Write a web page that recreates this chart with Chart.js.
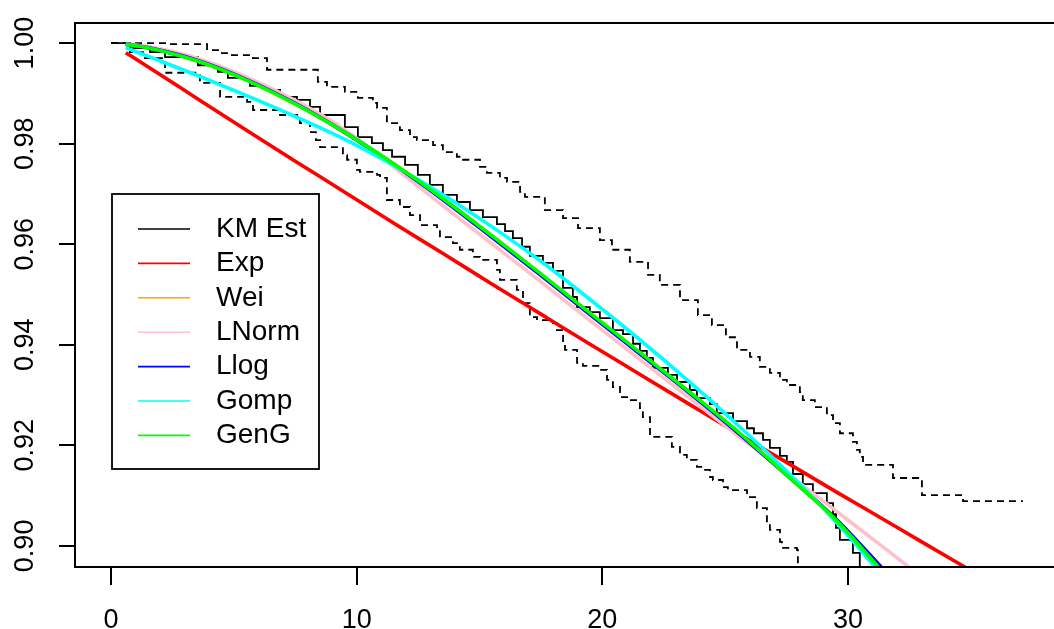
<!DOCTYPE html>
<html>
<head>
<meta charset="utf-8">
<title>Survival curves</title>
<script src="https://cdn.jsdelivr.net/npm/chart.js@4.4.1/dist/chart.umd.min.js"></script>
<style>
  html, body { margin: 0; padding: 0; background: #fff; overflow: hidden; }
  #wrap { width: 1062px; height: 629px; }
</style>
</head>
<body>
<div id="wrap"><canvas id="surv" width="1062" height="629"></canvas></div>
<script>
// Kaplan-Meier estimate (value after each drop)
const kmTime = [0, 0.77, 1.59, 2.20, 3.54, 4.35, 4.76, 5.66, 6.31, 6.88, 7.57, 8.10, 8.51, 9.52, 10.05, 10.62, 11.07, 11.44, 11.97, 12.49, 12.98, 13.51, 14.08, 14.61, 15.14, 15.71, 16.04, 16.36, 16.73, 17.05, 17.58, 17.99, 18.40, 18.80, 18.97, 19.49, 19.90, 20.43, 20.84, 21.25, 21.53, 21.81, 22.06, 22.67, 23.04, 23.56, 23.85, 24.38, 24.66, 25.32, 25.89, 26.17, 26.54, 26.82, 27.23, 27.51, 27.76, 28.16, 28.57, 29.14, 29.39, 29.51, 29.67, 30.20, 30.48];
const kmSurv = [1.0000, 0.9990, 0.9982, 0.9972, 0.9956, 0.9943, 0.9931, 0.9915, 0.9907, 0.9893, 0.9887, 0.9873, 0.9857, 0.9833, 0.9813, 0.9801, 0.9787, 0.9774, 0.9758, 0.9738, 0.9718, 0.9698, 0.9684, 0.9668, 0.9654, 0.9640, 0.9626, 0.9612, 0.9595, 0.9577, 0.9563, 0.9547, 0.9513, 0.9495, 0.9475, 0.9465, 0.9453, 0.9429, 0.9421, 0.9402, 0.9388, 0.9374, 0.9354, 0.9340, 0.9326, 0.9310, 0.9294, 0.9282, 0.9264, 0.9248, 0.9234, 0.9224, 0.9211, 0.9195, 0.9179, 0.9167, 0.9143, 0.9123, 0.9105, 0.9085, 0.9063, 0.9036, 0.9012, 0.8986, 0.8942];

// confidence band (dashed)
const upperTime = [0, 2.32, 3.91, 4.44, 4.84, 5.78, 6.35, 8.42, 8.79, 9.52, 10.05, 10.66, 10.83, 11.23, 11.76, 12.17, 12.45, 13.11, 13.51, 14.08, 14.33, 15.02, 15.30, 15.83, 16.12, 16.65, 16.85, 17.66, 18.40, 19.01, 19.90, 20.39, 21.12, 21.86, 22.34, 23.16, 23.89, 24.46, 25.03, 25.48, 26.01, 26.41, 26.82, 27.23, 27.51, 28.04, 28.16, 28.65, 29.14, 29.39, 29.67, 30.20, 30.36, 30.48, 30.61, 31.83, 33.01, 34.68, 37.12];
const upperSurv = [1.0000, 0.9998, 0.9986, 0.9980, 0.9976, 0.9970, 0.9947, 0.9923, 0.9913, 0.9903, 0.9891, 0.9881, 0.9871, 0.9841, 0.9827, 0.9813, 0.9807, 0.9797, 0.9783, 0.9774, 0.9768, 0.9754, 0.9742, 0.9732, 0.9724, 0.9704, 0.9694, 0.9668, 0.9652, 0.9632, 0.9608, 0.9589, 0.9565, 0.9539, 0.9519, 0.9489, 0.9459, 0.9439, 0.9415, 0.9390, 0.9376, 0.9356, 0.9344, 0.9330, 0.9320, 0.9306, 0.9290, 0.9276, 0.9260, 0.9244, 0.9224, 0.9207, 0.9191, 0.9177, 0.9161, 0.9135, 0.9101, 0.9089, 0.9089];
const lowerTime = [0, 0.77, 1.30, 2.20, 3.62, 4.44, 5.54, 5.78, 6.88, 7.69, 8.10, 8.34, 8.51, 9.44, 9.61, 10.01, 10.13, 10.83, 10.95, 11.23, 11.76, 12.17, 12.58, 13.27, 13.39, 13.92, 14.20, 14.73, 15.02, 15.71, 15.83, 16.52, 16.77, 17.05, 17.34, 17.99, 18.15, 18.40, 18.48, 18.97, 19.21, 19.90, 20.19, 20.43, 20.72, 21.12, 21.53, 21.65, 21.94, 22.83, 23.16, 23.44, 23.85, 24.09, 24.38, 24.50, 24.91, 25.11, 25.89, 26.29, 26.70, 26.82, 27.23, 27.31, 27.92, 27.96];
const lowerSurv = [1.0000, 0.9982, 0.9970, 0.9941, 0.9921, 0.9893, 0.9883, 0.9867, 0.9857, 0.9841, 0.9823, 0.9807, 0.9793, 0.9777, 0.9768, 0.9748, 0.9744, 0.9738, 0.9732, 0.9688, 0.9674, 0.9658, 0.9638, 0.9628, 0.9614, 0.9602, 0.9589, 0.9575, 0.9569, 0.9549, 0.9529, 0.9509, 0.9483, 0.9455, 0.9449, 0.9443, 0.9429, 0.9404, 0.9390, 0.9364, 0.9358, 0.9350, 0.9330, 0.9316, 0.9296, 0.9290, 0.9274, 0.9256, 0.9217, 0.9197, 0.9181, 0.9171, 0.9157, 0.9151, 0.9137, 0.9131, 0.9117, 0.9111, 0.9097, 0.9075, 0.9045, 0.9032, 0.9008, 0.8996, 0.8992, 0.8942];

// fitted parametric curves
const fitTime   = [0.6, 1.5, 3.5, 5.5, 7.5, 9.5, 11.5, 13.5, 15.5, 17.5, 19.5, 21.5, 23.5, 25.5, 27.5, 29.5, 31.5, 33, 35];
const expSurv   = [0.9981, 0.9953, 0.9890, 0.9827, 0.9765, 0.9704, 0.9642, 0.9582, 0.9521, 0.9461, 0.9401, 0.9342, 0.9283, 0.9224, 0.9166, 0.9108, 0.9051, 0.9008, 0.8951];
const weiSurv   = [0.9998, 0.9991, 0.9965, 0.9927, 0.9879, 0.9823, 0.9760, 0.9691, 0.9617, 0.9540, 0.9462, 0.9385, 0.9307, 0.9227, 0.9141, 0.9052, 0.8944, 0.8860, 0.8750];
const lnormSurv = [0.9998, 0.9993, 0.9970, 0.9933, 0.9886, 0.9828, 0.9754, 0.9677, 0.9601, 0.9525, 0.9448, 0.9372, 0.9296, 0.9220, 0.9145, 0.9070, 0.8995, 0.8938, 0.8860];
const llogSurv  = [0.9998, 0.9991, 0.9966, 0.9928, 0.9880, 0.9823, 0.9759, 0.9689, 0.9614, 0.9538, 0.9460, 0.9383, 0.9306, 0.9226, 0.9141, 0.9054, 0.8950, 0.8870, 0.8770];
const gompSurv  = [0.9991, 0.9974, 0.9936, 0.9896, 0.9854, 0.9809, 0.9757, 0.9699, 0.9635, 0.9566, 0.9490, 0.9411, 0.9328, 0.9241, 0.9149, 0.9048, 0.8934, 0.8840, 0.8700];
const gengSurv  = [0.9998, 0.9991, 0.9965, 0.9927, 0.9879, 0.9823, 0.9760, 0.9691, 0.9617, 0.9541, 0.9463, 0.9386, 0.9308, 0.9228, 0.9141, 0.9052, 0.8943, 0.8860, 0.8750];

const xTicks = [0, 10, 20, 30];
const yTicks = [0.90, 0.92, 0.94, 0.96, 0.98, 1.00];
const legendLabels = ["KM Est", "Exp", "Wei", "LNorm", "Llog", "Gomp", "GenG"];

const FONT = "'Liberation Sans', Arial, Helvetica, sans-serif";

function pts(ts, ss) {
    return ts.map((t, i) => ({ x: t, y: ss[i] }));
}

function ciLine(ts, ss) {
    return {
        data: pts(ts, ss), showLine: true, pointRadius: 0, stepped: true,
        borderColor: '#000', borderWidth: 1.8, borderDash: [7, 5], clip: 0, order: 9
    };
}

function fitLine(label, ss, color, order) {
    return {
        label: label, inLegend: true, data: pts(fitTime, ss), showLine: true, pointRadius: 0,
        cubicInterpolationMode: 'monotone', borderColor: color, borderWidth: 3.6, clip: 0, order: order
    };
}

const datasets = [
    ciLine(upperTime, upperSurv),
    ciLine(lowerTime, lowerSurv),
    { label: legendLabels[0], inLegend: true, data: pts(kmTime, kmSurv), showLine: true, pointRadius: 0,
      stepped: true, borderColor: '#000', borderWidth: 1.8, clip: 0, order: 8 },
    fitLine(legendLabels[1], expSurv, '#ff0000', 6),
    fitLine(legendLabels[2], weiSurv, '#ffa500', 5),
    fitLine(legendLabels[3], lnormSurv, '#ffc0cb', 4),
    fitLine(legendLabels[4], llogSurv, '#0000ff', 3),
    fitLine(legendLabels[5], gompSurv, '#00ffff', 2),
    fitLine(legendLabels[6], gengSurv, '#00ff00', 1)
];

// box round the plot region and the boxed legend, R style
const framePlugin = {
    id: 'frame',
    afterDatasetsDraw(chart) {
        const ctx = chart.ctx, a = chart.chartArea;
        ctx.save();
        ctx.strokeStyle = '#000';
        ctx.lineWidth = 2;
        ctx.strokeRect(a.left, a.top, a.right - a.left, a.bottom - a.top);

        const bx = a.left + 37, by = a.top + 171, bw = 207, bh = 275;
        ctx.fillStyle = '#fff';
        ctx.fillRect(bx, by, bw, bh);
        ctx.lineWidth = 1.8;
        ctx.strokeRect(bx, by, bw, bh);
        ctx.font = '28px ' + FONT;
        ctx.textBaseline = 'middle';
        ctx.textAlign = 'left';
        const items = chart.data.datasets.filter(d => d.inLegend);
        items.forEach((d, i) => {
            const y = by + 35 + i * 34.4;
            ctx.strokeStyle = d.borderColor;
            ctx.lineWidth = 1.6;
            ctx.beginPath();
            ctx.moveTo(bx + 26, y);
            ctx.lineTo(bx + 78, y);
            ctx.stroke();
            ctx.fillStyle = '#000';
            ctx.fillText(d.label, bx + 104, y);
        });
        ctx.restore();
    }
};

new Chart(document.getElementById('surv'), {
    type: 'scatter',
    data: { datasets: datasets },
    options: {
        responsive: false,
        animation: false,
        devicePixelRatio: 1,
        layout: { padding: { top: 23, left: 0, right: 0, bottom: 0 } },
        plugins: { legend: { display: false }, tooltip: { enabled: false } },
        scales: {
            x: {
                type: 'linear', min: -1.465, max: 38.71,
                afterBuildTicks: s => { s.ticks = xTicks.map(v => ({ value: v })); },
                afterFit: s => { s.height = 62; s.paddingLeft = 0; s.paddingRight = 0; },
                grid: { drawOnChartArea: false, drawTicks: true, tickLength: 18, color: '#000', lineWidth: 2 },
                border: { display: false },
                ticks: { color: '#000', font: { family: FONT, size: 27 }, padding: 19, maxRotation: 0, autoSkip: false,
                         callback: v => String(v) }
            },
            y: {
                type: 'linear', min: 0.8958, max: 1.004,
                afterBuildTicks: s => { s.ticks = yTicks.map(v => ({ value: v })); },
                afterFit: s => { s.width = 75; s.paddingTop = 0; s.paddingBottom = 0; },
                grid: { drawOnChartArea: false, drawTicks: true, tickLength: 16, color: '#000', lineWidth: 2 },
                border: { display: false },
                ticks: { color: '#000', font: { family: FONT, size: 27 }, padding: 7.5, minRotation: 90, maxRotation: 90,
                         crossAlign: 'center', autoSkip: false, callback: v => v.toFixed(2) }
            }
        }
    },
    plugins: [framePlugin]
});
</script>
</body>
</html>
